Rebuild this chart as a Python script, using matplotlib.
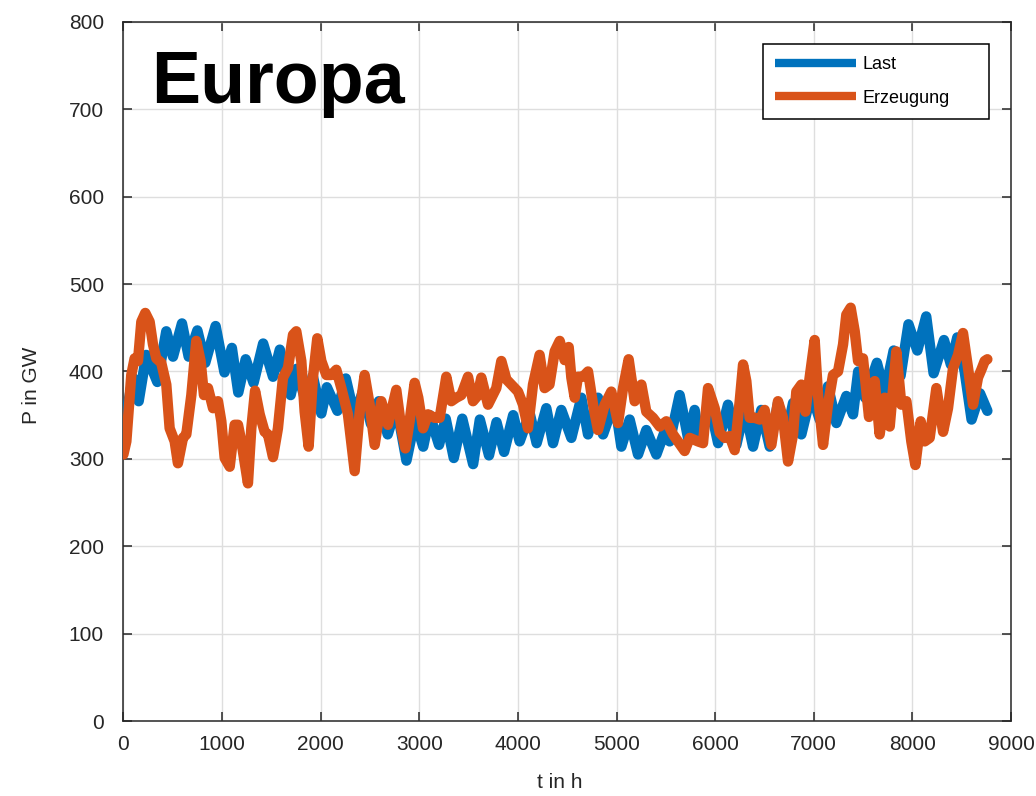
import matplotlib
matplotlib.use("Agg")
import matplotlib.pyplot as plt

plt.rcParams["font.family"] = ["Liberation Sans", "DejaVu Sans"]

# Hourly load ("Last") over one year, GW
t_last = [0, 46, 97, 155, 232, 344, 435, 503, 594, 662, 750, 830, 935, 1025,
          1100, 1165, 1240, 1320, 1417, 1517, 1586, 1696, 1755, 1850, 1920,
          2007, 2063, 2170, 2255, 2345, 2430, 2510, 2590, 2680, 2770, 2870,
          2957, 3040, 3107, 3200, 3268, 3350, 3436, 3546, 3614, 3707, 3783,
          3860, 3952, 4018, 4120, 4190, 4288, 4356, 4440, 4542, 4643, 4711,
          4812, 4863, 4981, 5049, 5133, 5218, 5302, 5404, 5488, 5539, 5640,
          5725, 5792, 5843, 5945, 6030, 6130, 6215, 6300, 6384, 6468, 6553,
          6637, 6722, 6790, 6874, 6975, 7060, 7144, 7229, 7330, 7398, 7450,
          7520, 7640, 7720, 7810, 7880, 7960, 8050, 8140, 8215, 8320, 8390,
          8455, 8530, 8600, 8685, 8760]
p_last = [320, 362, 393, 366, 419, 388, 446, 417, 455, 417, 447, 410, 452, 399,
          427, 376, 414, 387, 432, 394, 425, 373, 403, 365, 395,
          352, 382, 355, 392, 348, 378, 340, 366, 328, 360, 298,
          345, 314, 350, 316, 346, 301, 346, 294, 345, 304, 342,
          308, 350, 320, 352, 318, 358, 318, 356, 324, 370, 328,
          370, 328, 366, 314, 345, 305, 333, 305, 331, 320, 373,
          324, 356, 320, 362, 318, 362, 316, 358, 314, 356, 314,
          364, 328, 364, 328, 375, 345, 383, 341, 372, 351, 400,
          370, 410, 375, 424, 395, 454, 424, 463, 398, 436, 408,
          439, 400, 345, 375, 355]

# Generation ("Erzeugung") over the same year, GW
t_erz = [0, 30, 80, 114, 148, 182, 222, 266, 300, 334, 384, 435, 469, 520,
         553, 604, 638, 689, 739, 783, 817, 858, 909, 959, 993, 1027, 1078,
         1128, 1162, 1196, 1263, 1297, 1335, 1382, 1432, 1466, 1517, 1567,
         1618, 1669, 1720, 1753, 1804, 1838, 1878, 1922, 1966, 2007, 2058,
         2108, 2159, 2210, 2277, 2345, 2396, 2446, 2497, 2548, 2615, 2683,
         2767, 2818, 2859, 2902, 2953, 2990, 3038, 3088, 3156, 3207, 3274,
         3325, 3376, 3426, 3494, 3545, 3590, 3629, 3697, 3781, 3832, 3883,
         3933, 4001, 4052, 4102, 4153, 4220, 4271, 4320, 4373, 4424, 4474,
         4515, 4542, 4576, 4609, 4660, 4711, 4762, 4812, 4880, 4947, 5015,
         5066, 5123, 5184, 5252, 5302, 5370, 5438, 5505, 5573, 5623, 5691,
         5742, 5826, 5877, 5928, 5995, 6046, 6097, 6147, 6198, 6249, 6283,
         6316, 6350, 6401, 6452, 6502, 6570, 6637, 6688, 6739, 6790, 6823,
         6874, 6915, 6958, 7009, 7043, 7094, 7144, 7195, 7246, 7297, 7330,
         7374, 7415, 7449, 7499, 7560, 7618, 7668, 7719, 7770, 7837, 7888,
         7939, 7989, 8030, 8084, 8125, 8175, 8243, 8311, 8361, 8412, 8463,
         8513, 8564, 8615, 8665, 8699, 8733, 8760]
p_erz = [305, 320, 396, 415, 412, 457, 467, 457, 431, 415, 410, 385, 335, 320,
         295, 324, 328, 373, 435, 412, 373, 381, 358, 366, 343, 301, 291,
         339, 339, 320, 272, 335, 378, 351, 331, 328, 302, 335,
         393, 404, 442, 446, 412, 354, 314, 393, 438, 412, 396,
         396, 402, 381, 351, 286, 354, 396, 362, 316, 366, 339,
         379, 335, 312, 343, 387, 370, 335, 351, 347, 347, 394,
         366, 370, 373, 394, 366, 372, 393, 362, 381, 412, 391,
         385, 377, 362, 335, 385, 419, 381, 385, 423, 435, 413,
         428, 393, 370, 394, 394, 400, 362, 333, 362, 377, 341,
         381, 414, 366, 385, 354, 347, 337, 343, 328, 320, 309,
         324, 320, 318, 381, 358, 330, 324, 326, 310, 366, 408,
         389, 347, 347, 345, 356, 316, 366, 347, 297, 328, 377,
         385, 354, 393, 436, 373, 316, 362, 396, 400, 431, 465,
         473, 446, 412, 415, 348, 389, 328, 370, 337, 423, 362,
         366, 320, 293, 343, 320, 324, 381, 331, 358, 404, 419,
         444, 404, 362, 393, 402, 412, 414]

series_labels = ["Last", "Erzeugung"]
x_ticks = list(range(0, 9001, 1000))
y_ticks = list(range(0, 801, 100))

blue = "#0072BD"
orange = "#D95319"
axis_col = "#262626"

fig = plt.figure(figsize=(10.36, 7.96), dpi=100)
ax = fig.add_axes([0.1191, 0.0942, 0.8568, 0.8782])

line_kw = dict(linewidth=7.5, solid_capstyle="round", solid_joinstyle="round")
ax.plot(t_last, p_last, color=blue, label=series_labels[0], zorder=3, **line_kw)
ax.plot(t_erz, p_erz, color=orange, label=series_labels[1], zorder=4, **line_kw)

ax.set_xlim(0, 9000)
ax.set_ylim(0, 800)
ax.set_xticks(x_ticks)
ax.set_yticks(y_ticks)
ax.grid(True, color="#dedede", linewidth=1.0, zorder=0)
ax.set_axisbelow(True)

for sp in ax.spines.values():
    sp.set_color(axis_col)
    sp.set_linewidth(1.1)

ax.tick_params(axis="both", which="major", direction="in", length=6.5,
               width=1.1, color=axis_col, labelcolor=axis_col,
               labelsize=15, top=True, right=True)
ax.tick_params(axis="x", pad=10)
ax.tick_params(axis="y", pad=14)

ax.set_xlabel("t in h", fontsize=15, color=axis_col)
ax.set_ylabel("P in GW", fontsize=15, color=axis_col)
ax.xaxis.set_label_coords(0.492, -0.075)
ax.yaxis.set_label_coords(-0.093, 0.48)

ax.text(0.031, 0.884, "Europa", transform=ax.transAxes, fontsize=53,
        fontweight="bold", color="black", ha="left", va="baseline", zorder=6)

leg = ax.legend(loc="upper left", bbox_to_anchor=(0.7206, 0.9685, 0.2546, 0.0),
                mode="expand", fontsize=13, handlelength=4.5,
                handletextpad=0.35, labelspacing=0.93, borderpad=0.66,
                borderaxespad=0.0, fancybox=False, framealpha=1.0,
                edgecolor="black")
leg.get_frame().set_linewidth(1.1)
for h in leg.get_lines():
    h.set_linewidth(6)
    h.set_solid_capstyle("butt")
leg.set_zorder(7)

fig.savefig("out.png", dpi=100)
